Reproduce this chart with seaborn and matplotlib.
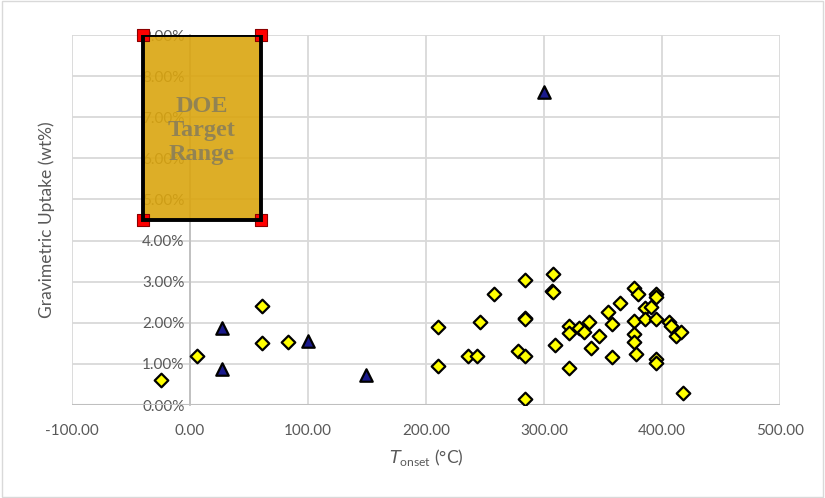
import matplotlib
matplotlib.use("Agg")
import matplotlib.pyplot as plt
import seaborn as sns
import pandas as pd
from matplotlib.patches import Rectangle
from matplotlib.ticker import FuncFormatter

# ---- data ----
diamond_x = [-25, 6, 61, 61, 83, 210, 210, 236, 243, 246, 258, 278, 284, 284, 284,
             284, 284, 308, 307, 308, 309, 321, 321, 321, 330, 334, 338, 340, 347,
             354, 358, 358, 364, 376, 380, 395, 395, 386, 391, 376, 386, 395, 376,
             376, 378, 395, 395, 406, 408, 412, 416, 418]
diamond_y = [0.60, 1.18, 2.40, 1.50, 1.54, 1.89, 0.95, 1.20, 1.20, 2.03, 2.70, 1.32,
             3.05, 2.12, 2.08, 1.20, 0.14, 3.18, 2.78, 2.74, 1.47, 1.92, 1.76, 0.91,
             1.87, 1.77, 2.01, 1.39, 1.69, 2.26, 1.98, 1.16, 2.49, 2.84, 2.70, 2.70,
             2.63, 2.37, 2.38, 2.05, 2.10, 2.08, 1.73, 1.54, 1.25, 1.11, 1.02, 2.01,
             1.93, 1.69, 1.77, 0.30]
triangle_x = [27, 27, 100, 149, 300]
triangle_y = [1.88, 0.87, 1.55, 0.73, 7.62]
box_x = [-40, 60, 60, -40]
box_y = [9.0, 9.0, 4.5, 4.5]
box_label = "DOE\nTarget\nRange"
x_ticks = [-100, 0, 100, 200, 300, 400, 500]
y_ticks = [0, 1, 2, 3, 4, 5, 6, 7, 8, 9]

df_d = pd.DataFrame({"x": diamond_x, "y": diamond_y})
df_t = pd.DataFrame({"x": triangle_x, "y": triangle_y})
df_b = pd.DataFrame({"x": box_x, "y": box_y})

sns.set_theme(style="white")
plt.rcParams["font.family"] = ["Lato", "DejaVu Sans"]
txt = "#595959"

fig = plt.figure(figsize=(8.25, 4.98), dpi=100)
ax = fig.add_axes([72 / 825, 1 - 405 / 498, (780 - 72) / 825, (405 - 35) / 498])

ax.set_xlim(-100, 500)
ax.set_ylim(0, 9)
ax.set_xticks(x_ticks)
ax.set_yticks(y_ticks)
ax.grid(True, color="#d9d9d9", linewidth=1.3, zorder=0)
ax.set_axisbelow(True)

for s in ["top", "right", "bottom"]:
    ax.spines[s].set_visible(False)
ax.spines["left"].set_position(("data", 0))
ax.spines["left"].set_color("#bfbfbf")
ax.spines["left"].set_linewidth(1.3)
ax.axhline(0, color="#bfbfbf", linewidth=1.5, zorder=1)

ax.xaxis.set_major_formatter(FuncFormatter(lambda v, p: f"{v:.2f}"))
ax.yaxis.set_major_formatter(FuncFormatter(lambda v, p: f"{v:.2f}%"))
ax.tick_params(axis="both", length=0, labelsize=11, labelcolor=txt)
ax.tick_params(axis="x", pad=14)
ax.tick_params(axis="y", pad=4)

sns.scatterplot(data=df_d, x="x", y="y", ax=ax, marker="D", s=48,
                color="#FFFF00", edgecolor="black", linewidth=1.6, zorder=3)
sns.scatterplot(data=df_t, x="x", y="y", ax=ax, marker="^", s=80,
                color="#1a1a8c", edgecolor="black", linewidth=1.6, zorder=3)

# DOE target range box
bx0, bx1 = min(box_x), max(box_x)
by0, by1 = min(box_y), max(box_y)
ax.add_patch(Rectangle((bx0, by0), bx1 - bx0, by1 - by0, facecolor="#DAA50F",
                       alpha=0.9, edgecolor="none", zorder=4))
ax.add_patch(Rectangle((bx0, by0), bx1 - bx0, by1 - by0, facecolor="none",
                       edgecolor="black", linewidth=2.8, zorder=5))
sns.scatterplot(data=df_b, x="x", y="y", ax=ax, marker="s", s=70,
                color="#ff0000", edgecolor="#8b0000", linewidth=0.8, zorder=4.5,
                clip_on=False)
ax.text((bx0 + bx1) / 2, 6.68, box_label, ha="center", va="center",
        family=["Liberation Serif", "DejaVu Serif"], fontweight="bold",
        fontsize=17.5, color="#857c5c", alpha=0.85, linespacing=1.2, zorder=6)

ax.set_xlabel(r"$\mathit{T}_{\mathregular{onset}}$ (°C)", fontsize=12.5, color=txt,
              labelpad=6)
ax.set_ylabel("Gravimetric Uptake (wt%)", fontsize=12.5, color=txt)
ax.yaxis.set_label_coords((55 - 72) / 708, 0.5)

fig.patches.append(Rectangle((0.002, 0.003), 0.996, 0.994, transform=fig.transFigure,
                             fill=False, edgecolor="#d9d9d9", linewidth=1.0))

fig.savefig("out.png", dpi=100)
